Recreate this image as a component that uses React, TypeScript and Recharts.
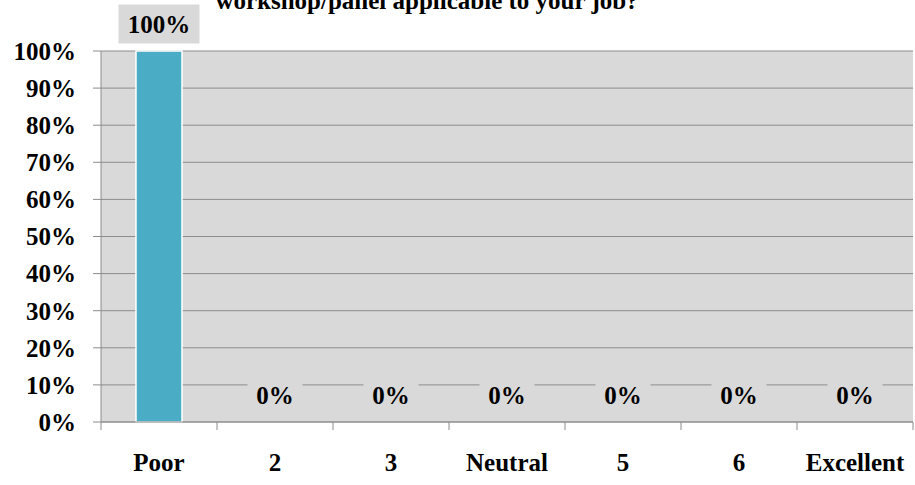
import { ComposedChart, Bar, Line, XAxis, YAxis, CartesianGrid } from 'recharts';

const categories = ['Poor', '2', '3', 'Neutral', '5', '6', 'Excellent'];
const shares = [100, 0, 0, 0, 0, 0, 0];
const yTicks = [0, 10, 20, 30, 40, 50, 60, 70, 80, 90, 100];
const titleText = 'workshop/panel applicable to your job?';

const data = categories.map((name, i) => ({ name, value: shares[i] }));

const FONT = '"Liberation Serif", "Times New Roman", serif';
const HALF_BAND = 58;

const ValueLabel = (props: any) => {
  const { x, y, value } = props;
  const text = `${value}%`;
  const textW = text.length === 4 ? 64 : 38;
  const boxW = textW + 17;
  const boxH = 39;
  const cy = y - 27;
  return (
    <g>
      <rect x={x - boxW / 2} y={cy - boxH / 2} width={boxW} height={boxH} fill="#d9d9d9" />
      <text x={x} y={cy} textAnchor="middle" dominantBaseline="central" fontFamily={FONT} fontWeight="bold" fontSize={25} fill="#000">
        {text}
      </text>
    </g>
  );
};

// tick y arrives below the axis line by the default tick size (6px)
const CategoryTick = (props: any) => {
  const { x, y, payload, index, visibleTicksCount } = props;
  const top = y - 6;
  const last = index === visibleTicksCount - 1;
  return (
    <g>
      <line x1={x - HALF_BAND} x2={x - HALF_BAND} y1={top} y2={top + 8} stroke="#8c8c8c" />
      {last && <line x1={x + HALF_BAND} x2={x + HALF_BAND} y1={top} y2={top + 8} stroke="#8c8c8c" />}
      <text x={x} y={top + 40} textAnchor="middle" dominantBaseline="central" fontFamily={FONT} fontWeight="bold" fontSize={25} fill="#000">
        {payload.value}
      </text>
    </g>
  );
};

export default function App() {
  return (
    <div style={{ position: 'absolute', left: 0, top: 0, width: 915, height: 485, background: '#fff', overflow: 'hidden' }}>
      <ComposedChart width={915} height={485} data={data} margin={{ top: 51, right: 2, left: 0, bottom: 0 }} barCategoryGap={0}>
        <CartesianGrid vertical={false} stroke="#8c8c8c" fill="#d9d9d9" fillOpacity={1} />
        <XAxis
          dataKey="name"
          height={63}
          axisLine={{ stroke: '#8c8c8c' }}
          tickLine={false}
          tick={<CategoryTick />}
          tickMargin={0}
          interval={0}
        />
        <YAxis
          width={101}
          domain={[0, 100]}
          ticks={yTicks}
          interval={0}
          axisLine={{ stroke: '#8c8c8c' }}
          tickLine={{ stroke: '#8c8c8c' }}
          tickSize={8}
          tickFormatter={(v: number) => `${v}%`}
          tick={{ fontFamily: FONT, fontWeight: 'bold', fontSize: 25, fill: '#000', dx: -15 }}
        />
        <Bar dataKey="value" fill="#4bacc6" stroke="#ffffff" strokeWidth={1.5} barSize={46} isAnimationActive={false} />
        <Line
          dataKey="value"
          stroke="none"
          dot={false}
          activeDot={false}
          legendType="none"
          label={<ValueLabel />}
          isAnimationActive={false}
        />
        <text x={427} y={9} textAnchor="middle" fontFamily={FONT} fontWeight="bold" fontSize={25} fill="#000">
          {titleText}
        </text>
      </ComposedChart>
    </div>
  );
}
